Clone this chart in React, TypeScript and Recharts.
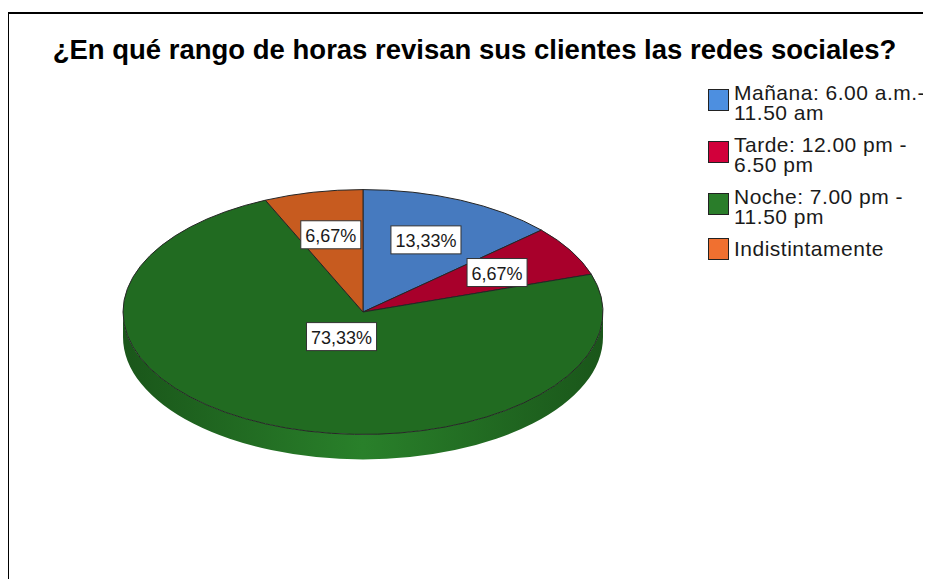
import React from 'react';
import { PieChart, Pie, Cell, Legend } from 'recharts';

const categories = [
  'Mañana: 6.00 a.m.- 11.50 am',
  'Tarde: 12.00 pm - 6.50 pm',
  'Noche: 7.00 pm - 11.50 pm',
  'Indistintamente',
];
const counts = [2, 1, 11, 1];

// top face, legend swatch, side wall (edge / middle)
const faceColors = ['#467abf', '#a8002b', '#216b21', '#c75b1f'];
const legendColors = ['#4d8fe0', '#d2003b', '#2a7d2a', '#f07030'];
const wallEdge = ['#2c5589', '#72001d', '#1a561a', '#8c3f14'];
const wallMid = ['#4a80c4', '#a8002b', '#29802a', '#c75b1f'];

const data = categories.map((name, i) => ({ name, value: counts[i] }));

const TILT = 0.51;
const DEPTH = 25;
const RAD = Math.PI / 180;

const pt = (cx: number, cy: number, rx: number, ry: number, a: number) =>
  [cx + rx * Math.cos(a * RAD), cy - ry * Math.sin(a * RAD)];

const FaceShape = (p: any) => {
  const { cx, cy, outerRadius, startAngle, endAngle, fill } = p;
  const rx = outerRadius;
  const ry = outerRadius * TILT;
  const [x1, y1] = pt(cx, cy, rx, ry, startAngle);
  const [x2, y2] = pt(cx, cy, rx, ry, endAngle);
  const large = Math.abs(startAngle - endAngle) > 180 ? 1 : 0;
  const sweep = endAngle < startAngle ? 1 : 0;
  const d = `M${cx},${cy} L${x1},${y1} A${rx},${ry} 0 ${large} ${sweep} ${x2},${y2} Z`;
  return <path d={d} fill={fill} stroke="#262626" strokeWidth={1} strokeLinejoin="round" />;
};

const WallShape = (p: any) => {
  const { cx, cy, outerRadius, startAngle, endAngle, name } = p;
  const rx = outerRadius;
  const ry = outerRadius * TILT;
  const idx = categories.indexOf(name);
  const a0 = Math.min(startAngle, endAngle);
  const a1 = Math.max(startAngle, endAngle);
  const paths: string[] = [];
  // only the front half of the rim is visible
  for (const k of [-1, 0, 1]) {
    const lo = Math.max(a0, -180 + 360 * k);
    const hi = Math.min(a1, 360 * k);
    if (hi - lo <= 0) continue;
    const [hx, hy] = pt(cx, cy, rx, ry, hi);
    const [lx, ly] = pt(cx, cy, rx, ry, lo);
    paths.push(
      `M${hx},${hy} A${rx},${ry} 0 0 1 ${lx},${ly} L${lx},${ly + DEPTH} A${rx},${ry} 0 0 0 ${hx},${hy + DEPTH} Z`
    );
  }
  if (!paths.length) return <g />;
  return <path d={paths.join(' ')} fill={`url(#wall-${idx})`} stroke="none" />;
};

const textWidth = (s: string, size: number) => {
  let w = 0;
  for (const ch of s) {
    if (ch === ',' || ch === '.') w += 0.278;
    else if (ch === '%') w += 0.889;
    else w += 0.556;
  }
  return w * size;
};

const renderLabel = (p: any) => {
  const { cx, cy, midAngle, outerRadius, percent } = p;
  const f = percent > 0.5 ? 0.22 : 0.645;
  const x = cx + outerRadius * f * Math.cos(midAngle * RAD);
  const y = cy - outerRadius * TILT * f * Math.sin(midAngle * RAD);
  const txt = `${(percent * 100).toFixed(2).replace('.', ',')}%`;
  const w = textWidth(txt, 18) + 9;
  return (
    <g>
      <rect x={x - w / 2} y={y - 14} width={w} height={28} fill="#ffffff" stroke="#333333" strokeWidth={1} />
      <text x={x} y={y + 1} textAnchor="middle" dominantBaseline="central" fontSize={18} fill="#1a1a1a">
        {txt}
      </text>
    </g>
  );
};

const renderLegend = () => (
  <div style={{ display: 'flex', flexDirection: 'column', gap: 12 }}>
    {categories.map((c, i) => (
      <div key={c} style={{ display: 'flex', alignItems: 'flex-start' }}>
        <span
          style={{
            width: 21,
            height: 22,
            marginTop: c.length > 20 ? 6 : -1,
            marginRight: 5,
            flexShrink: 0,
            boxSizing: 'border-box',
            background: legendColors[i],
            border: '1px solid #222',
          }}
        />
        <span
          style={{
            width: 197,
            fontSize: 21,
            letterSpacing: 0.5,
            lineHeight: '20px',
            color: '#1a1a1a',
          }}
        >
          {c}
        </span>
      </div>
    ))}
  </div>
);

export default function App() {
  return (
    <div
      style={{
        position: 'relative',
        width: 931,
        height: 579,
        marginLeft: -8,
        marginTop: -8,
        overflow: 'hidden',
        background: '#ffffff',
        fontFamily: '"Liberation Sans", Arial, sans-serif',
      }}
    >
      <div
        style={{
          position: 'absolute',
          left: 7,
          top: 12,
          width: 960,
          height: 620,
          borderLeft: '2px solid #000',
          borderTop: '2px solid #000',
        }}
      />
      <div
        style={{
          position: 'absolute',
          left: 0,
          top: 34,
          width: 949,
          textAlign: 'center',
          fontSize: 27.5,
          fontWeight: 'bold',
          lineHeight: '32px',
          whiteSpace: 'nowrap',
          color: '#000',
        }}
      >
        ¿En qué rango de horas revisan sus clientes las redes sociales?
      </div>
      <div style={{ position: 'absolute', left: 0, top: 0 }}>
        <PieChart width={931} height={579} margin={{ top: 0, right: 0, bottom: 0, left: 0 }}>
          <defs>
            {categories.map((c, i) => (
              <linearGradient key={c} id={`wall-${i}`} x1="0" y1="0" x2="1" y2="0">
                <stop offset="0%" stopColor={wallEdge[i]} />
                <stop offset="50%" stopColor={wallMid[i]} />
                <stop offset="100%" stopColor={wallEdge[i]} />
              </linearGradient>
            ))}
          </defs>
          <Pie
            data={data}
            dataKey="value"
            nameKey="name"
            cx={363}
            cy={312}
            outerRadius={240}
            startAngle={90}
            endAngle={-270}
            legendType="none"
            shape={WallShape}
            activeShape={WallShape}
            isAnimationActive={false}
          >
            {data.map((d, i) => (
              <Cell key={d.name} fill={faceColors[i]} />
            ))}
          </Pie>
          <Pie
            data={data}
            dataKey="value"
            nameKey="name"
            cx={363}
            cy={312}
            outerRadius={240}
            startAngle={90}
            endAngle={-270}
            shape={FaceShape}
            activeShape={FaceShape}
            label={renderLabel}
            labelLine={false}
            isAnimationActive={false}
          >
            {data.map((d, i) => (
              <Cell key={d.name} fill={faceColors[i]} />
            ))}
          </Pie>
          <Legend
            content={renderLegend}
            layout="vertical"
            verticalAlign="top"
            align="right"
            wrapperStyle={{ position: 'absolute', left: 708, top: 83, width: 223 }}
          />
        </PieChart>
      </div>
    </div>
  );
}
